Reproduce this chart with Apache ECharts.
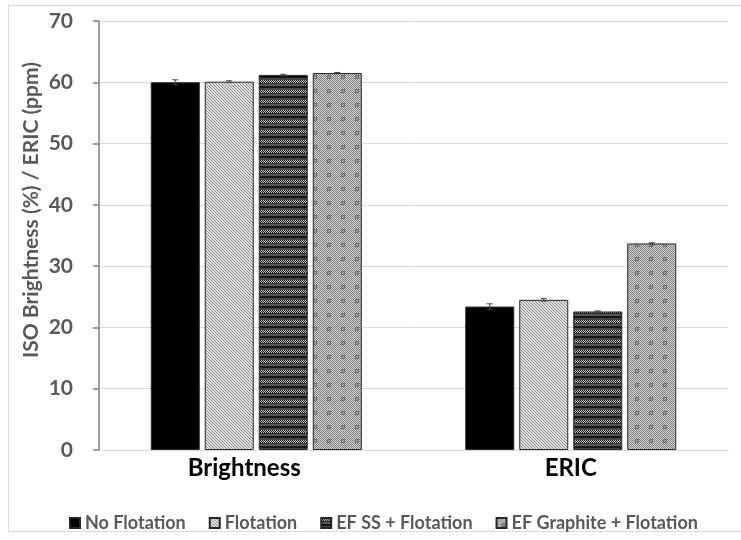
<!DOCTYPE html>
<html>
<head>
<meta charset="utf-8">
<script src="https://cdn.jsdelivr.net/npm/echarts@6/dist/echarts.min.js"></script>
<style>
html,body{margin:0;padding:0;background:#fff;}
#chart{width:741px;height:540px;}
</style>
</head>
<body>
<div id="chart"></div>
<script>
var categories = ['Brightness', 'ERIC'];
var seriesNames = ['No Flotation', 'Flotation', 'EF SS + Flotation', 'EF Graphite + Flotation'];
var noFlotation = [60.0, 23.4];
var flotation = [60.1, 24.5];
var efSS = [61.2, 22.6];
var efGraphite = [61.5, 33.7];
var errNoFlotation = [0.4, 0.45];
var errFlotation = [0.15, 0.2];
var errEfSS = [0.1, 0.1];
var errEfGraphite = [0.1, 0.1];
var yTicks = [0, 10, 20, 30, 40, 50, 60, 70];
var yAxisTitle = 'ISO Brightness (%) / ERIC (ppm)';

var values = [noFlotation, flotation, efSS, efGraphite];
var errors = [errNoFlotation, errFlotation, errEfSS, errEfGraphite];

function makeCanvas(w, h, draw) {
  var c = document.createElement('canvas');
  c.width = w; c.height = h;
  var ctx = c.getContext('2d');
  draw(ctx, w, h);
  return c;
}
function px(ctx, x, y, col) { ctx.fillStyle = col; ctx.fillRect(x, y, 1, 1); }

var patFlot = makeCanvas(6, 6, function (ctx, w, h) {
  ctx.fillStyle = '#e2e2e2'; ctx.fillRect(0, 0, w, h);
  for (var y = 0; y < h; y++) for (var x = 0; x < w; x++) {
    if ((x - y + 60) % 3 === 0) px(ctx, x, y, '#8a8a8a');
  }
});
var patSS = makeCanvas(4, 10, function (ctx, w, h) {
  ctx.fillStyle = '#2a2a2a'; ctx.fillRect(0, 0, w, h);
  for (var y = 0; y < 3; y++) for (var x = 0; x < w; x++) {
    px(ctx, x, y, ((x + y) % 2 === 0) ? '#111' : '#c8c8c8');
  }
  ctx.fillStyle = '#555'; ctx.fillRect(0, 4, w, 2);
  ctx.fillStyle = '#151515'; ctx.fillRect(0, 6, w, 2);
  ctx.fillStyle = '#444'; ctx.fillRect(0, 8, w, 2);
});
var patGr = makeCanvas(14, 14, function (ctx, w, h) {
  for (var y = 0; y < h; y++) for (var x = 0; x < w; x++) {
    px(ctx, x, y, ((x + y) % 2 === 0) ? '#7c7c7c' : '#d6d6d6');
  }
  ctx.fillStyle = '#6e6e6e'; ctx.fillRect(5, 5, 4, 4);
  ctx.fillStyle = '#9a9a9a'; ctx.fillRect(6, 6, 2, 2);
});

var fills = [
  '#000000',
  { image: patFlot, repeat: 'repeat' },
  { image: patSS, repeat: 'repeat' },
  { image: patGr, repeat: 'repeat' }
];

var BAR_W = 49, BAR_GAP = 5;

var series = seriesNames.map(function (name, i) {
  return {
    name: name,
    type: 'bar',
    data: values[i],
    barWidth: BAR_W,
    barGap: (BAR_GAP / BAR_W * 100) + '%',
    itemStyle: { color: fills[i], borderColor: '#262626', borderWidth: 1 },
    emphasis: { disabled: true },
    z: 2
  };
});

seriesNames.forEach(function (name, i) {
  var data = categories.map(function (c, j) { return [j, values[i][j], errors[i][j]]; });
  series.push({
    type: 'custom',
    name: name + ' err',
    data: data,
    z: 5,
    silent: true,
    renderItem: function (params, api) {
      var idx = api.value(0);
      var v = api.value(1), e = api.value(2);
      var off = (i - 1.5) * (BAR_W + BAR_GAP);
      var p0 = api.coord([idx, v - e]);
      var p1 = api.coord([idx, v + e]);
      var x = p0[0] + off;
      var st = { stroke: '#404040', lineWidth: 1 };
      return {
        type: 'group',
        children: [
          { type: 'line', shape: { x1: x, y1: p0[1], x2: x, y2: p1[1] }, style: st },
          { type: 'line', shape: { x1: x - 3, y1: p0[1], x2: x + 3, y2: p0[1] }, style: st },
          { type: 'line', shape: { x1: x - 3, y1: p1[1], x2: x + 3, y2: p1[1] }, style: st }
        ]
      };
    }
  });
});

var chart = echarts.init(document.getElementById('chart'), null, { renderer: 'canvas' });
chart.setOption({
  animation: false,
  backgroundColor: '#ffffff',
  graphic: [{
    type: 'rect',
    shape: { x: 8.5, y: 5.5, width: 760, height: 526 },
    style: { fill: 'none', stroke: '#d9d9d9', lineWidth: 1 },
    silent: true, z: -10
  }, {
    type: 'text',
    x: 31, y: 210,
    rotation: Math.PI / 2,
    silent: true,
    style: {
      text: yAxisTitle,
      fontFamily: 'Lato', fontWeight: 'bold', fontSize: 21, fill: '#595959',
      align: 'center', verticalAlign: 'middle'
    }
  }],
  grid: { left: 99, right: 13, top: 21, bottom: 90, containLabel: false },
  legend: {
    data: seriesNames,
    top: 509,
    left: 64,
    itemWidth: 10,
    itemHeight: 10,
    itemGap: 23,
    icon: 'rect',
    textStyle: { fontFamily: 'Lato', fontWeight: 'bold', fontSize: 18, color: '#595959' }
  },
  xAxis: {
    type: 'category',
    data: categories,
    axisLine: { show: true, lineStyle: { color: '#d9d9d9', width: 1 } },
    axisTick: { show: false },
    axisLabel: {
      fontFamily: 'Lato', fontWeight: 'bold', fontSize: 24, color: '#000', margin: 6,
      formatter: function (v, i) { return i === 0 ? '{l|' + v + '}' : '{c|' + v + '}'; },
      rich: {
        l: { fontFamily: 'Lato', fontWeight: 'bold', fontSize: 24, color: '#000', padding: [0, 24, 0, 0] },
        c: { fontFamily: 'Lato', fontWeight: 'bold', fontSize: 24, color: '#000' }
      }
    }
  },
  yAxis: {
    type: 'value',
    min: yTicks[0],
    max: yTicks[yTicks.length - 1],
    interval: 10,
    axisLine: { show: true, lineStyle: { color: '#7f7f7f', width: 1.5 } },
    axisTick: { show: true, inside: false, length: 6, lineStyle: { color: '#7f7f7f', width: 1.5 } },
    axisLabel: { fontFamily: 'Lato', fontWeight: 'bold', fontSize: 21, color: '#595959', margin: 26 },
    splitLine: { show: true, lineStyle: { color: '#d9d9d9', width: 1 } }
  },
  series: series
});
</script>
</body>
</html>
